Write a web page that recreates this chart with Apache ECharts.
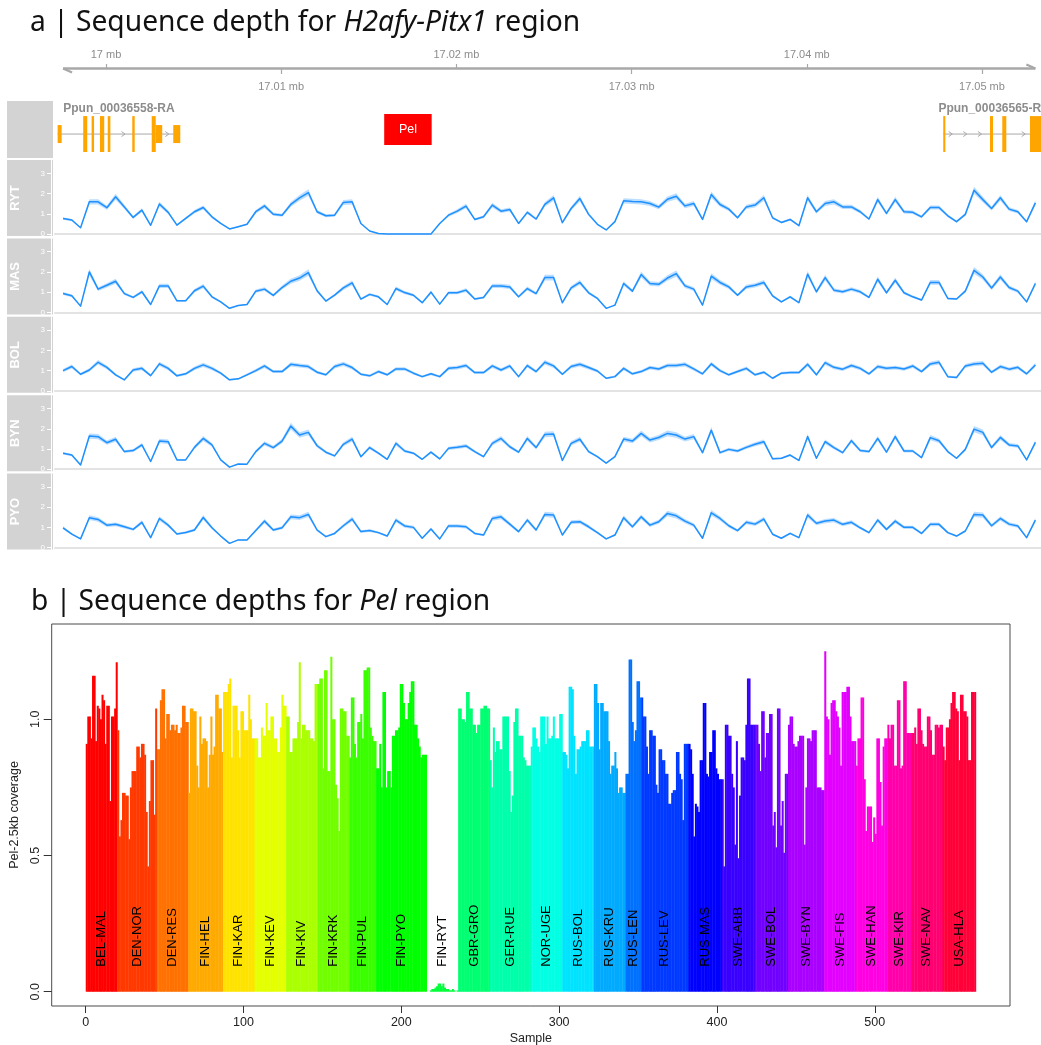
<!DOCTYPE html>
<html><head><meta charset="utf-8">
<script src="https://cdn.jsdelivr.net/npm/echarts@6/dist/echarts.min.js"></script>
<style>html,body{margin:0;padding:0;background:#fff}#c{width:1041px;height:1045px}</style>
</head><body><div id="c"></div>
<script>
// ---------------- DATA : panel a ----------------
const trackNames = ['RYT', 'MAS', 'BOL', 'BYN', 'PYO'];
const WIN_START = 16.99755;   // first 500 bp window (mb)
const WIN_STEP = 0.0005;      // window size (mb)
const RYT = [0.77,0.69,0.31,1.59,1.59,1.30,1.84,1.34,0.82,1.18,0.43,1.48,1.07,0.44,0.77,1.10,1.31,0.85,0.52,0.25,
  0.36,0.48,1.10,1.39,0.98,0.93,1.46,1.79,2.05,1.10,0.90,0.93,1.56,1.59,0.52,0.15,0.02,0,0,0,
  0,0,0,0.52,0.93,1.13,1.38,0.72,0.85,1.43,1.13,1.21,0.52,
  1.07,0.74,1.46,1.79,0.56,1.26,1.75,0.97,0.48,0.20,0.61,1.64,1.61,1.59,1.51,1.33,1.72,1.87,1.39,1.51,
  0.72,1.95,1.46,1.23,0.80,1.34,1.43,1.79,0.80,0.57,0.72,0.41,1.79,1.10,1.51,1.59,1.34,1.34,1.10,0.74,
  1.70,1.02,1.70,1.10,1.07,0.85,1.31,1.31,0.90,0.61,0.97,2.16,1.70,1.26,1.79,1.23,1.10,0.61,1.54];
const MAS = [0.93,0.82,0.31,2.00,1.15,1.34,1.54,0.93,0.74,1.02,0.39,1.31,1.31,0.57,0.57,1.07,1.30,0.77,0.52,0.20,
  0.34,0.39,1.05,1.15,0.84,1.23,1.54,1.70,1.97,1.07,0.56,0.85,1.21,1.46,0.66,0.89,0.77,0.39,1.18,0.98,
  0.85,0.48,1.00,0.41,0.97,0.97,1.10,0.66,0.74,1.31,1.31,1.26,0.77,
  1.18,0.93,1.72,1.72,0.48,1.21,1.48,0.97,0.69,0.20,0.36,1.43,1.05,1.87,1.43,1.39,1.70,1.92,1.31,1.15,
  0.36,1.79,1.48,1.26,0.85,1.26,1.34,1.48,0.82,0.52,0.77,0.48,1.89,1.02,1.72,1.10,1.02,1.15,1.02,0.74,
  1.64,0.97,1.59,0.97,0.77,0.61,1.48,1.48,0.69,0.66,1.05,2.08,1.75,1.21,1.75,1.23,1.05,0.52,1.43];
const BOL = [1.00,1.20,0.82,1.03,1.41,1.16,0.79,0.54,1.03,1.11,0.75,1.33,1.11,0.74,0.84,1.11,1.28,1.11,0.87,0.54,
  0.59,0.79,1.00,1.23,0.95,0.95,1.31,1.25,1.20,0.92,0.79,1.20,1.33,1.15,0.82,0.74,0.95,0.79,1.08,1.08,
  0.87,0.70,0.84,0.70,1.11,1.15,1.25,0.90,0.90,1.23,1.03,1.23,0.70,
  1.25,0.95,1.41,1.23,0.82,1.20,1.31,1.15,0.98,0.62,0.70,1.11,0.84,0.95,1.15,1.08,1.25,1.25,1.31,1.08,
  0.84,1.33,1.00,0.79,0.95,1.11,0.79,0.92,0.62,0.87,0.90,0.90,1.31,0.79,1.39,1.16,1.07,1.25,1.11,0.84,
  1.20,1.11,1.15,1.08,1.23,0.95,1.33,1.41,0.70,0.66,1.23,1.33,1.36,0.92,1.20,1.07,1.16,0.84,1.28];
const BYN = [0.79,0.70,0.21,1.64,1.61,1.31,1.48,0.87,0.92,1.20,0.38,1.39,1.36,0.46,0.46,1.08,1.52,1.20,0.46,0.10,
  0.26,0.25,0.87,1.28,1.07,1.39,2.13,1.69,1.82,1.16,0.84,0.66,1.23,1.49,0.62,1.07,0.79,0.49,1.28,0.90,
  0.79,0.49,0.84,0.51,1.03,1.08,1.15,0.87,0.62,1.28,1.52,1.11,0.84,
  1.52,1.07,1.72,1.74,0.43,1.28,1.48,0.87,0.62,0.30,0.62,1.49,1.39,1.77,1.44,1.57,1.77,1.69,1.49,1.61,
  0.82,1.93,0.82,0.98,0.90,1.08,1.23,1.36,0.51,0.54,0.70,0.43,1.61,0.54,1.36,1.07,0.82,1.41,0.92,0.87,
  1.52,0.84,1.61,0.90,0.90,0.57,1.56,1.41,0.87,0.54,0.98,1.98,1.82,1.07,1.57,1.20,1.15,0.46,1.33];
const PYO = [0.98,0.67,0.43,1.48,1.39,1.11,1.15,1.03,0.90,1.25,0.49,1.44,1.11,0.67,0.75,0.87,1.49,0.98,0.57,0.21,
  0.38,0.38,0.84,1.31,0.87,0.98,1.52,1.48,1.64,0.87,0.54,0.70,1.08,1.41,0.79,0.84,0.74,0.57,1.36,1.07,
  1.00,0.46,0.92,0.43,1.07,1.07,1.03,0.70,0.62,1.44,1.52,1.16,0.79,
  1.36,0.87,1.64,1.61,0.62,1.25,1.28,1.03,0.74,0.43,0.62,1.48,1.03,1.52,1.11,1.28,1.69,1.57,1.31,1.11,
  0.46,1.72,1.44,1.08,0.84,1.25,1.16,1.41,0.66,0.46,0.70,0.49,1.61,1.20,1.31,1.36,1.15,1.25,0.98,0.74,
  1.36,0.90,1.31,1.00,1.00,0.70,1.15,1.15,0.74,0.57,0.82,1.64,1.61,1.08,1.44,1.16,1.07,0.49,1.36];
const trackValues = [RYT, MAS, BOL, BYN, PYO];

// gene models: [start mb, end mb, coding(1)/UTR(0)]
const gene1Name = 'Ppun_00036558-RA';
const gene1Exons = [[16.99724,16.99747,0],[16.99870,16.99893,1],[16.99918,16.99932,1],[16.99966,16.99990,1],
  [17.00010,17.00025,1],[17.00150,17.00164,1],[17.00261,17.00284,1],[17.00284,17.00321,0],[17.00384,17.00424,0]];
const gene2Name = 'Ppun_00036565-RA';
const gene2Exons = [[17.04779,17.04791,1],[17.05046,17.05063,1],[17.05116,17.05139,1],[17.05274,17.05360,1]];
const pelRegion = [17.01588, 17.01859];
const genomeTicksTop = [17.00, 17.02, 17.04];
const genomeTicksBottom = [17.01, 17.03, 17.05];
const trackTicks = [0, 1, 2, 3];

// ---------------- DATA : panel b ----------------
const popNames = ['BEL-MAL','DEN-NOR','DEN-RES','FIN-HEL','FIN-KAR','FIN-KEV','FIN-KIV','FIN-KRK','FIN-PUL','FIN-PYO',
  'FIN-RYT','GBR-GRO','GER-RUE','NOR-UGE','RUS-BOL','RUS-KRU','RUS-LEN','RUS-LEV','RUS-MAS','SWE-ABB',
  'SWE-BOL','SWE-BYN','SWE-FIS','SWE-HAN','SWE-KIR','SWE-NAV','USA-HLA'];
const popSizes = [20,25,20,22,20,20,20,20,17,32,20,20,26,20,20,20,10,30,21,21,21,23,20,20,15,20,21];
const sampleDepth = [
  0.91,1.01,1.01,0.93,1.16,1.16,0.92,1.05,1.04,1.00,1.09,1.07,0.91,1.05,1.05,0.70,1.01,1.01,1.04,1.21,
  0.96,0.57,0.63,0.73,0.73,0.72,0.72,0.56,0.75,0.81,0.81,0.81,0.90,0.90,0.86,0.91,0.91,0.87,0.66,0.46,0.70,0.85,0.85,0.65,1.04,
  0.89,0.89,1.07,1.11,1.11,0.93,1.02,1.02,0.96,0.98,0.98,0.96,0.98,0.95,0.95,0.97,1.05,1.05,0.99,0.99,
  0.73,1.04,1.04,1.03,1.03,0.83,0.75,1.01,0.91,0.93,0.93,0.92,0.75,0.87,1.01,0.87,0.90,1.09,1.09,1.04,1.04,0.88,
  1.10,1.10,1.10,1.13,1.15,0.86,1.05,1.05,1.05,0.96,0.86,1.03,1.03,0.96,0.96,0.96,1.09,1.00,0.93,0.93,
  0.93,0.93,0.86,0.86,0.97,0.94,0.94,1.06,0.96,0.96,1.01,1.01,0.93,0.93,0.88,0.88,0.97,1.09,1.05,1.05,
  1.01,1.01,0.88,0.88,0.93,0.93,0.93,0.99,1.21,0.93,0.98,0.98,0.96,0.96,0.96,0.93,0.93,0.92,1.13,1.13,
  1.13,1.15,1.15,0.82,1.18,1.18,0.81,0.81,1.23,1.00,1.00,0.76,0.71,0.59,1.04,1.04,1.03,1.03,0.94,0.94,
  0.86,1.08,1.08,0.91,0.86,0.99,0.99,1.02,0.93,1.18,1.18,1.19,1.19,0.97,0.94,0.92,0.92,
  0.82,0.82,0.91,0.75,1.10,1.10,0.75,0.81,0.81,0.75,0.94,0.94,0.96,0.96,0.97,1.13,1.13,1.06,1.00,1.00,1.06,1.10,1.14,1.14,0.98,0.98,0.93,0.90,0.86,0.87,0.87,0.87,
  0,0,0.005,0.01,0.01,0.015,0.02,0.03,0.03,0.02,0.03,0.015,0.01,0.01,0.005,0.005,0.01,0.005,0,0.005,
  1.04,1.04,1.00,1.00,0.99,1.10,1.10,1.04,1.04,0.98,0.98,0.95,0.98,0.98,1.04,1.04,1.05,1.05,1.04,1.04,
  0.85,0.75,0.97,0.88,0.92,0.92,0.89,0.89,1.01,1.01,1.01,1.01,0.81,0.66,0.72,0.99,1.04,1.04,0.94,0.94,0.94,0.86,0.85,0.83,0.83,0.83,
  0.90,0.97,0.97,0.93,0.90,0.88,1.01,1.01,1.01,0.91,1.01,0.93,0.93,0.94,1.01,0.93,0.93,0.93,1.02,1.02,
  0.88,0.88,0.87,0.82,1.12,1.12,1.11,0.94,0.80,0.89,0.89,0.90,0.92,0.92,0.92,0.96,0.96,0.90,0.90,0.90,
  1.13,1.13,1.06,0.89,1.06,1.06,1.03,1.03,1.03,0.92,0.80,0.83,0.83,0.88,0.82,0.73,0.75,0.75,0.73,0.73,
  0.80,0.80,1.22,1.22,0.99,0.92,0.96,1.14,1.14,1.08,
  1.08,1.01,1.01,0.90,0.80,0.96,0.96,0.94,0.94,0.76,0.73,0.89,0.89,0.85,0.85,0.80,0.80,0.69,0.69,0.73,0.74,0.74,0.88,0.88,0.80,0.78,0.63,0.91,0.91,0.91,
  0.91,0.89,0.80,0.57,0.69,0.68,0.66,0.85,0.85,1.06,1.06,0.80,0.79,0.88,0.88,0.96,0.96,0.82,0.80,0.78,0.78,
  0.78,0.46,0.98,0.98,0.94,0.94,0.80,0.75,0.54,0.92,0.49,0.72,0.86,0.86,0.85,0.98,1.15,1.15,0.98,0.98,0.98,
  0.98,0.98,0.91,0.81,1.03,1.03,0.86,0.95,0.95,1.02,1.02,0.61,0.66,0.53,1.04,1.04,0.61,0.70,0.51,0.80,0.80,
  0.98,1.01,1.01,0.91,0.90,0.90,0.92,0.94,0.94,0.94,0.54,0.75,0.93,0.93,0.92,0.96,0.96,0.96,0.75,0.75,0.75,0.74,0.74,
  1.25,1.01,1.00,0.87,1.06,1.07,1.07,1.03,1.01,0.97,0.83,1.10,1.10,1.10,1.12,1.12,1.01,0.92,0.92,0.92,
  0.83,0.93,0.93,1.08,1.08,0.78,0.59,0.68,0.68,0.68,0.55,0.64,0.58,0.93,0.93,0.77,0.61,0.90,0.93,0.93,
  0.98,0.93,0.98,0.98,0.83,0.83,1.07,1.07,0.82,0.83,1.14,1.14,0.95,0.95,0.95,
  0.95,0.95,0.97,0.91,1.04,1.04,0.96,0.91,0.90,0.90,1.01,1.01,0.96,0.87,0.87,0.98,0.98,0.97,0.98,0.98,
  0.90,0.85,0.97,0.97,1.00,1.06,1.10,1.10,1.04,1.03,0.85,1.09,1.09,1.03,1.03,1.01,0.85,0.85,1.10,1.10,1.10];
const depthTicks = [0, 0.5, 1.0];
const sampleTicks = [0, 100, 200, 300, 400, 500];

// ---------------- LAYOUT / STYLE ----------------
const FONT = 'Liberation Sans';
const TITLE_FONT = 'Noto Sans';
const PANEL_L = 55, PANEL_RIGHT = 1041;
const MB_MIN = 16.99709, MB_MAX = 17.05337;
const pxPerMb = (PANEL_RIGHT - PANEL_L) / (MB_MAX - MB_MIN);
const winPos = RYT.map((_, k) => +(WIN_START + k * WIN_STEP).toFixed(5));
const WIN_END = winPos[winPos.length - 1];
const AXIS_L = PANEL_L + (WIN_START - MB_MIN) * pxPerMb;
const AXIS_W = (WIN_END - WIN_START) * pxPerMb;
const GENE_TOP = 101, GENE_H = 57;
const TRACK_TOP0 = 160, TRACK_STEP = 78.4, TRACK_H = 76;
const TRACK_MIN = -0.1, TRACK_MAX = 3.66;
const STRIP_X = 7, STRIP_W = 46, STRIP_COLOR = '#D3D3D3';
const LINE_COLOR = '#1E90FF', BAND_COLOR = 'rgba(30,144,255,0.30)', BAND_REL = 0.08;
const GREY = '#8c8c8c';

function rainbow(i, n) {
  const h = (i / n) * 6, f = h - Math.floor(h), q = 1 - f;
  const sect = Math.floor(h) % 6;
  const rgb = [[1, f, 0], [q, 1, 0], [0, 1, f], [0, q, 1], [f, 0, 1], [1, 0, q]][sect];
  return 'rgb(' + rgb.map(c => Math.round(c * 255)).join(',') + ')';
}
const popColors = popNames.map((_, i) => rainbow(i, popNames.length));
const popStart = []; { let s = 0; popSizes.forEach(n => { popStart.push(s); s += n; }); }
const sampleGroup = []; popSizes.forEach((n, g) => { for (let j = 0; j < n; j++) sampleGroup.push(g); });

// ---------------- OPTION ----------------
const grids = [], xAxes = [], yAxes = [], series = [], graphics = [];

// grid 0: genome axis
grids.push({ left: AXIS_L, width: AXIS_W, top: 68, height: 1, outerBoundsMode: 'none' });
const mbFmt = v => Number(v.toFixed(2)) + ' mb';
xAxes.push({ gridIndex: 0, type: 'value', position: 'top', min: WIN_START, max: WIN_END,
  axisLine: { show: false }, splitLine: { show: false },
  axisTick: { show: true, customValues: genomeTicksTop, length: 5, lineStyle: { color: '#a8a8a8', width: 1.2 } },
  axisLabel: { show: true, customValues: genomeTicksTop, formatter: mbFmt, color: GREY, fontSize: 11, fontFamily: FONT, margin: 8 } });
xAxes.push({ gridIndex: 0, type: 'value', position: 'bottom', min: WIN_START, max: WIN_END,
  axisLine: { show: false }, splitLine: { show: false },
  axisTick: { show: true, customValues: genomeTicksBottom, length: 5, lineStyle: { color: '#a8a8a8', width: 1.2 } },
  axisLabel: { show: true, customValues: genomeTicksBottom, formatter: mbFmt, color: GREY, fontSize: 11, fontFamily: FONT, margin: 12 } });
yAxes.push({ gridIndex: 0, type: 'value', min: 0, max: 1, show: false });
series.push({ type: 'custom', xAxisIndex: 1, yAxisIndex: 0, silent: true, data: [[WIN_START, 0.5]],
  renderItem: (params, api) => {
    const a = api.coord([WIN_START, 0.5]), b = api.coord([WIN_END, 0.5]);
    const st = { stroke: '#a8a8a8', lineWidth: 2.4, fill: null };
    return { type: 'group', children: [
      { type: 'line', shape: { x1: a[0], y1: a[1], x2: b[0], y2: b[1] }, style: st },
      { type: 'line', shape: { x1: a[0], y1: a[1], x2: a[0] + 9, y2: a[1] + 4 }, style: st },
      { type: 'line', shape: { x1: b[0], y1: b[1], x2: b[0] - 9, y2: b[1] - 4 }, style: st } ] };
  } });

// grid 1: gene track
grids.push({ left: PANEL_L, right: 0, top: GENE_TOP, height: GENE_H, outerBoundsMode: 'none' });
xAxes.push({ gridIndex: 1, type: 'value', min: MB_MIN, max: MB_MAX, show: false });
yAxes.push({ gridIndex: 1, type: 'value', min: 0, max: 1, show: false });
const genes = [{ name: gene1Name, exons: gene1Exons }, { name: gene2Name, exons: gene2Exons }];
series.push({ type: 'custom', xAxisIndex: 2, yAxisIndex: 1, silent: true, clip: false,
  data: genes.map(g => [g.exons[0][0], 0.5]),
  renderItem: (params, api) => {
    const g = genes[params.dataIndex], cs = params.coordSys;
    const yMid = cs.y + cs.height * 0.58, tallH = cs.height * 0.63, shortH = cs.height * 0.316;
    const ex = g.exons.map(e => [api.coord([e[0], 0])[0], api.coord([e[1], 0])[0], e[2]]);
    const x0 = Math.min(...ex.map(e => e[0])), x1 = Math.max(...ex.map(e => e[1]));
    const ch = [{ type: 'line', shape: { x1: x0, y1: yMid, x2: x1, y2: yMid }, style: { stroke: '#a8a8a8', lineWidth: 1 } }];
    for (let cx = x0 + 8; cx < x1 - 4; cx += 14.6) {
      const ok = ex.every(e => cx + 1.5 < e[0] - 2 || cx - 3 > e[1] + 1);
      if (ok) ch.push({ type: 'polyline', shape: { points: [[cx - 2.5, yMid - 2.5], [cx + 1, yMid], [cx - 2.5, yMid + 2.5]] },
        style: { stroke: '#a8a8a8', lineWidth: 1, fill: null } });
    }
    ex.forEach(e => {
      const h = e[2] ? tallH : shortH;
      ch.push({ type: 'rect', shape: { x: e[0], y: yMid - h / 2, width: Math.max(e[1] - e[0], 1.5), height: h },
        style: { fill: '#FFA500' } });
    });
    ch.push({ type: 'text', x: (x0 + x1) / 2, y: cs.y + 7.5,
      style: { text: g.name, fill: GREY, font: 'bold 12px "' + FONT + '"', align: 'center', verticalAlign: 'middle' } });
    return { type: 'group', children: ch };
  } });
series.push({ type: 'custom', xAxisIndex: 2, yAxisIndex: 1, silent: true, data: [[pelRegion[0], 0.5]],
  renderItem: (params, api) => {
    const cs = params.coordSys;
    const a = api.coord([pelRegion[0], 0])[0], b = api.coord([pelRegion[1], 0])[0];
    const yc = cs.y + cs.height * 0.5, h = cs.height * 0.54;
    return { type: 'group', children: [
      { type: 'rect', shape: { x: a, y: yc - h / 2, width: b - a, height: h }, style: { fill: '#FF0000' } },
      { type: 'text', x: (a + b) / 2, y: yc, style: { text: 'Pel', fill: '#fff', font: '12.5px "' + FONT + '"', align: 'center', verticalAlign: 'middle' } } ] };
  } });
graphics.push({ type: 'rect', shape: { x: STRIP_X, y: GENE_TOP, width: STRIP_W, height: GENE_H }, style: { fill: STRIP_COLOR }, z: -10 });

// grids 2..6 : coverage tracks
trackNames.forEach((name, t) => {
  const gi = 2 + t, top = TRACK_TOP0 + TRACK_STEP * t;
  const vals = trackValues[t];
  grids.push({ left: PANEL_L, right: 0, top: top, height: TRACK_H, outerBoundsMode: 'none' });
  xAxes.push({ gridIndex: gi, type: 'value', min: MB_MIN, max: MB_MAX,
    axisLine: { show: true, onZero: true, lineStyle: { color: '#e3e3e3', width: 2 } },
    axisTick: { show: false }, axisLabel: { show: false }, splitLine: { show: false } });
  yAxes.push({ gridIndex: gi, type: 'value', min: TRACK_MIN, max: TRACK_MAX, offset: 4,
    axisLine: { show: true, lineStyle: { color: '#ffffff', width: 1 } },
    axisTick: { show: true, customValues: trackTicks, length: 4, lineStyle: { color: '#ffffff' } },
    axisLabel: { show: true, customValues: trackTicks, color: '#ffffff', fontSize: 8, fontFamily: FONT, margin: 6 },
    splitLine: { show: false } });
  series.push({ type: 'custom', xAxisIndex: gi + 1, yAxisIndex: gi, silent: true, z: 1,
    data: [[winPos[0], 0]],
    renderItem: (params, api) => {
      const up = [], lo = [];
      vals.forEach((v, k) => {
        up.push(api.coord([winPos[k], v * (1 + BAND_REL)]));
        lo.unshift(api.coord([winPos[k], Math.max(0, v * (1 - BAND_REL))]));
      });
      return { type: 'polygon', shape: { points: up.concat(lo) }, style: { fill: BAND_COLOR } };
    } });
  series.push({ type: 'line', xAxisIndex: gi + 1, yAxisIndex: gi, showSymbol: false, silent: true, z: 2,
    data: vals.map((v, k) => [winPos[k], v]),
    lineStyle: { color: LINE_COLOR, width: 1.5, join: 'round' } });
  graphics.push({ type: 'rect', shape: { x: STRIP_X, y: top, width: STRIP_W, height: TRACK_H }, style: { fill: STRIP_COLOR }, z: -10 });
  graphics.push({ type: 'text', x: 15, y: top + TRACK_H / 2, rotation: Math.PI / 2,
    style: { text: name, fill: '#ffffff', font: 'bold 13px "' + FONT + '"', align: 'center', verticalAlign: 'middle' }, z: 5 });
});

// grid 7 : panel b
const BGI = 7;
grids.push({ left: 51.7, right: 31, top: 624, bottom: 39, show: true, borderColor: '#4a4a4a', borderWidth: 1,
  backgroundColor: 'transparent', outerBoundsMode: 'none' });
xAxes.push({ gridIndex: BGI, type: 'value', min: -21.56, max: 585.7, position: 'bottom',
  axisLine: { show: false, onZero: false },
  axisTick: { show: true, customValues: sampleTicks, length: 7, lineStyle: { color: '#333' } },
  axisLabel: { show: true, customValues: sampleTicks, color: '#222', fontSize: 12.5, fontFamily: FONT, margin: 10 },
  splitLine: { show: false },
  name: 'Sample', nameLocation: 'middle', nameGap: 26, nameTextStyle: { color: '#222', fontSize: 12.5, fontFamily: FONT } });
yAxes.push({ gridIndex: BGI, type: 'value', min: -0.0525, max: 1.35,
  axisLine: { show: false, onZero: false },
  axisTick: { show: true, customValues: depthTicks, length: 8, lineStyle: { color: '#333' } },
  axisLabel: { show: true, customValues: depthTicks, rotate: 90, formatter: v => v.toFixed(1), color: '#222', fontSize: 12.5, fontFamily: FONT, margin: 10 },
  splitLine: { show: false },
  name: 'Pel-2.5kb coverage', nameLocation: 'middle', nameGap: 22, nameRotate: 90,
  nameTextStyle: { color: '#222', fontSize: 12.5, fontFamily: FONT } });
series.push({ type: 'custom', xAxisIndex: 8, yAxisIndex: 7, silent: true,
  data: sampleDepth.map((v, i) => [i, v, sampleGroup[i]]),
  renderItem: (params, api) => {
    const i = api.value(0), v = api.value(1), g = api.value(2);
    const p0 = api.coord([i, v]), p1 = api.coord([i + 1, 0]);
    return { type: 'rect', shape: { x: p0[0], y: p0[1], width: p1[0] - p0[0] + 0.45, height: p1[1] - p0[1] },
      style: { fill: popColors[g] } };
  } });
series.push({ type: 'custom', xAxisIndex: 8, yAxisIndex: 7, silent: true, z: 5,
  data: popNames.map((n, g) => [popStart[g] + popSizes[g] / 2, 0, g]),
  renderItem: (params, api) => {
    const g = api.value(2), p = api.coord([api.value(0), 0]);
    return { type: 'text', x: p[0], y: p[1] - 25, rotation: Math.PI / 2,
      style: { text: popNames[g], fill: '#000', font: '13px "' + FONT + '"', align: 'left', verticalAlign: 'middle' } };
  } });

const titleRich = { n: { fontSize: 28.2, fontWeight: 'normal', fontFamily: TITLE_FONT, color: '#111' },
  i: { fontSize: 28.2, fontWeight: 'normal', fontFamily: TITLE_FONT, color: '#111', fontStyle: 'italic' } };
const option = {
  animation: false, backgroundColor: '#ffffff',
  title: [
    { text: '{n|a | Sequence depth for }{i|H2afy-Pitx1}{n| region}', left: 30, top: 9, padding: 0,
      textStyle: { fontWeight: 'normal', rich: titleRich } },
    { text: '{n|b | Sequence depths for }{i|Pel}{n| region}', left: 31, top: 588, padding: 0,
      textStyle: { fontWeight: 'normal', rich: titleRich } } ],
  graphic: { elements: graphics },
  grid: grids, xAxis: xAxes, yAxis: yAxes, series: series
};
const chart = echarts.init(document.getElementById('c'), null, { renderer: 'canvas' });
chart.setOption(option);
</script></body></html>
